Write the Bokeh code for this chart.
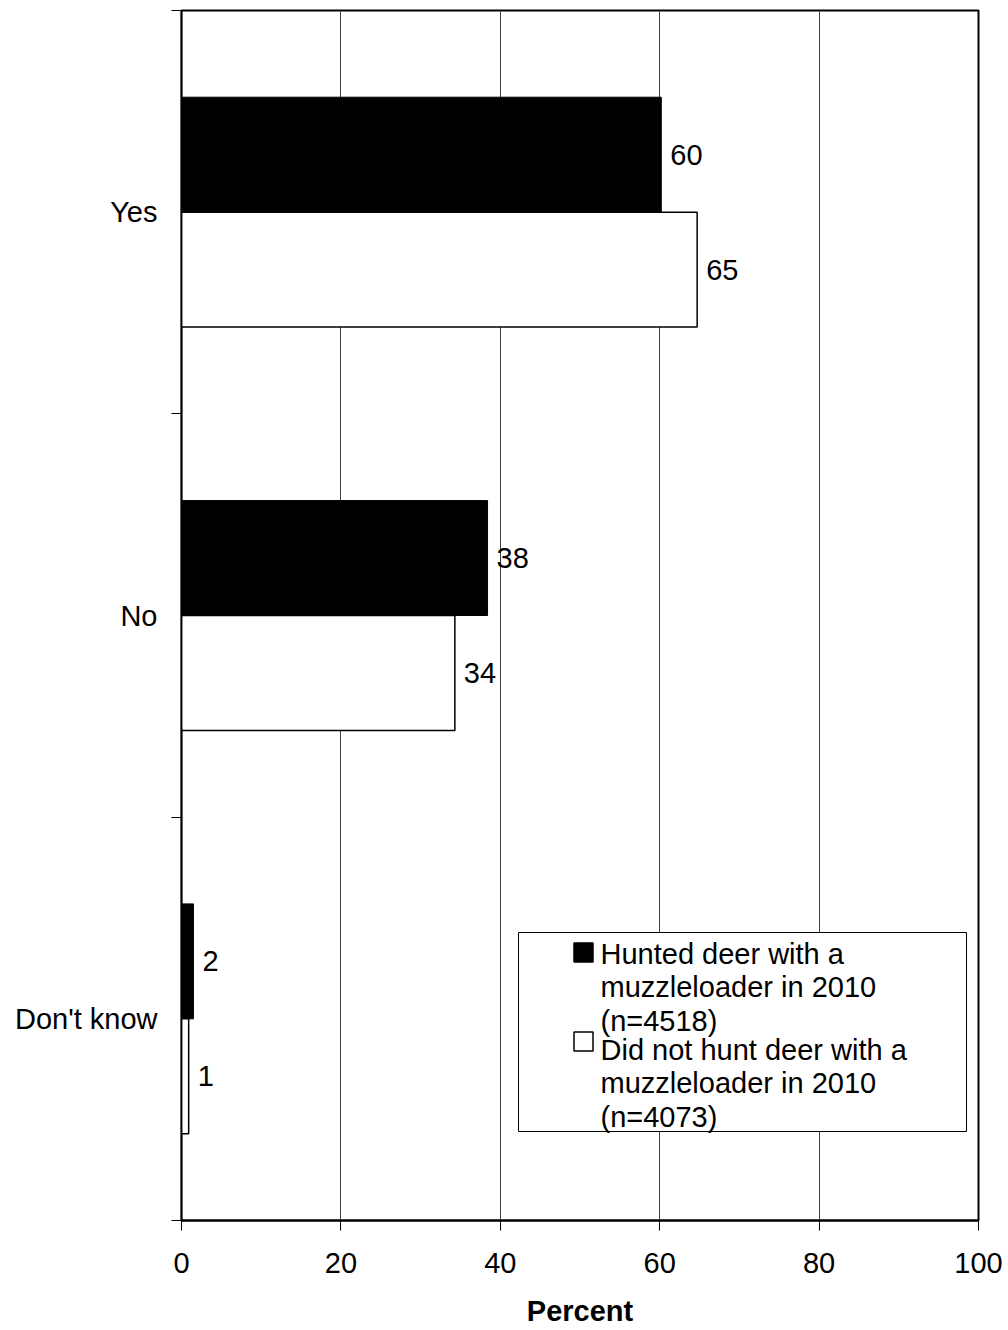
from bokeh.plotting import figure
from bokeh.models import Range1d, FixedTicker
from bokeh.embed import file_html
from bokeh.resources import INLINE
from bokeh.core.properties import value

# ---- data ----
categories = ["Yes", "No", "Don't know"]
hunted = [60.2, 38.4, 1.5]
not_hunted = [64.7, 34.3, 0.9]
hunted_labels = ["60", "38", "2"]
not_hunted_labels = ["65", "34", "1"]
hunted_name = ["Hunted deer with a", "muzzleloader in 2010", "(n=4518)"]
not_hunted_name = ["Did not hunt deer with a", "muzzleloader in 2010", "(n=4073)"]
x_ticks = [0, 20, 40, 60, 80, 100]
x_grid = [20, 40, 60, 80]

FONT = "Liberation Sans"
FS = "29px"

W, H = 1004, 1330
FL, FR, FT, FB = 181, 978, 10, 1220  # frame edges in canvas px

p = figure(width=W, height=H, output_backend="svg", toolbar_location=None,
           x_range=Range1d(0, 100), y_range=Range1d(0, 3),
           min_border_left=FL, min_border_right=W - FR,
           min_border_top=FT, min_border_bottom=H - FB)
p.background_fill_color = "white"
p.border_fill_color = "white"
p.outline_line_color = "black"
p.outline_line_width = 2


def dx(px):
    return (px - FL) / (FR - FL) * 100.0


def dy(py):
    return (FB - py) / (FB - FT) * 3.0


n = len(categories)
centers = [n - i - 0.5 for i in range(n)]
BAR = 0.285

# grid
p.ygrid.visible = False
p.xgrid.ticker = FixedTicker(ticks=x_grid)
p.xgrid.grid_line_color = "#404040"
p.xgrid.grid_line_width = 1

# bars
p.hbar(y=[c + BAR / 2 for c in centers], left=0, right=hunted, height=BAR,
       fill_color="black", line_color="black", line_width=1)
p.hbar(y=[c - BAR / 2 for c in centers], left=0, right=not_hunted, height=BAR,
       fill_color="white", line_color="black", line_width=1.5)

# value labels
common = dict(text_baseline="middle", text_align="left", x_offset=9,
              text_font=value(FONT), text_font_size=value(FS), text_color="black")
p.text(x=hunted, y=[c + BAR / 2 for c in centers], text=hunted_labels, **common)
p.text(x=not_hunted, y=[c - BAR / 2 for c in centers], text=not_hunted_labels, **common)

# x axis
xa = p.xaxis[0]
xa.ticker = FixedTicker(ticks=x_ticks)
xa.major_tick_in = 0
xa.major_tick_out = 10
xa.minor_tick_out = 0
xa.minor_tick_in = 0
xa.axis_line_color = "black"
xa.axis_line_width = 2
xa.major_tick_line_color = "black"
xa.major_label_text_font = FONT
xa.major_label_text_font_size = FS
xa.major_label_text_color = "black"
xa.major_label_standoff = 22
xa.axis_label = "Percent"
xa.axis_label_text_font = FONT
xa.axis_label_text_font_size = FS
xa.axis_label_text_font_style = "bold"
xa.axis_label_text_color = "black"
xa.axis_label_standoff = 19

# y axis: labels at category centres, tick marks at boundaries
ya = p.yaxis[0]
ya.ticker = FixedTicker(ticks=centers, minor_ticks=[float(i) for i in range(n + 1)])
ya.major_label_overrides = {c: cat for c, cat in zip(centers, categories)}
ya.major_tick_in = 0
ya.major_tick_out = 0
ya.minor_tick_in = 0
ya.minor_tick_out = 10
ya.minor_tick_line_color = "black"
ya.axis_line_color = "black"
ya.axis_line_width = 1.5
ya.major_label_text_font = FONT
ya.major_label_text_font_size = FS
ya.major_label_text_color = "black"
ya.major_label_standoff = 14

# legend (drawn manually)
p.quad(left=[dx(518)], right=[dx(966)], top=[dy(932)], bottom=[dy(1131)],
       fill_color="white", line_color="black", line_width=1)
p.scatter(x=[dx(583), dx(583)], y=[dy(952), dy(1041)], marker="square", size=19,
          fill_color=["black", "white"], line_color="black", line_width=1.5)
leg_y1 = [953, 986.5, 1020]
leg_y2 = [1049, 1082.5, 1116]
p.text(x=[dx(600)] * 6, y=[dy(v) for v in leg_y1 + leg_y2],
       text=hunted_name + not_hunted_name,
       text_baseline="middle", text_align="left",
       text_font=value(FONT), text_font_size=value(FS), text_color="black")

open("out.html", "w").write(file_html(p, INLINE))
